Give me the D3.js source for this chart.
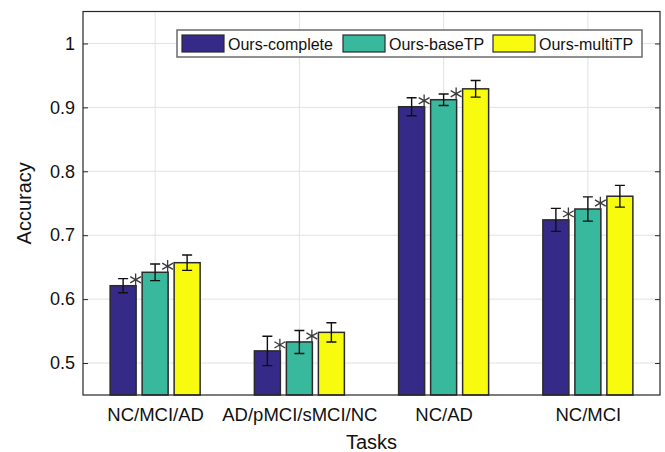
<!DOCTYPE html>
<html>
<head>
<meta charset="utf-8">
<script src="https://cdn.jsdelivr.net/npm/d3@7"></script>
<style>
    body { margin: 0; background: #fff; }
    text { font-family: "Liberation Sans", Arial, sans-serif; }
</style>
</head>
<body>
<div id="chart"></div>
<script>
// chart data
var tasks = ["NC/MCI/AD", "AD/pMCI/sMCI/NC", "NC/AD", "NC/MCI"];
var methods = ["Ours-complete", "Ours-baseTP", "Ours-multiTP"];
var colors = ["#352a87", "#38b99e", "#f9fb0e"];
var complete = [0.621, 0.519, 0.901, 0.724];
var completeErr = [0.011, 0.023, 0.014, 0.018];
var baseTP = [0.642, 0.533, 0.912, 0.741];
var baseTPErr = [0.013, 0.018, 0.009, 0.019];
var multiTP = [0.657, 0.548, 0.929, 0.761];
var multiTPErr = [0.012, 0.015, 0.013, 0.017];
// which method gets a significance star
var starred = [true, true, false];
var yTicks = [0.5, 0.6, 0.7, 0.8, 0.9, 1];

var values = [complete, baseTP, multiTP];
var errors = [completeErr, baseTPErr, multiTPErr];

drawChart();

function drawChart() {
    var W = 665, H = 452;
    var left = 83, right = 660, top = 11.5, bottom = 395;

    var svg = d3.select("#chart").append("svg")
        .attr("width", W)
        .attr("height", H);

    // x is the task index 1..4 like a matlab bar plot
    var x = d3.scaleLinear().domain([0.5, 4.5]).range([left, right]);
    var y = d3.scaleLinear().domain([0.45, 1.05]).range([bottom, top]);
    // offset of each bar inside a group
    var xm = d3.scaleBand().domain(methods).range([-48, 48])
        .paddingInner(0.1875).paddingOuter(0.09375);

    // flatten into one record per bar
    var bars = [];
    tasks.forEach(function (t, i) {
        methods.forEach(function (m, j) {
            bars.push({ task: i + 1, method: m, k: j, v: values[j][i], e: errors[j][i] });
        });
    });

    // grid
    var grid = svg.append("g").attr("stroke", "#e2e2e2").attr("stroke-width", 1);
    grid.selectAll(".gy").data(yTicks).enter().append("line")
        .attr("x1", left).attr("x2", right)
        .attr("y1", function (d) { return y(d); })
        .attr("y2", function (d) { return y(d); });
    grid.selectAll(".gx").data(d3.range(1, 5)).enter().append("line")
        .attr("y1", top).attr("y2", bottom)
        .attr("x1", function (d) { return x(d); })
        .attr("x2", function (d) { return x(d); });

    // bars
    svg.append("g").selectAll("rect").data(bars).enter().append("rect")
        .attr("x", function (d) { return x(d.task) + xm(d.method); })
        .attr("width", xm.bandwidth())
        .attr("y", function (d) { return y(d.v); })
        .attr("height", function (d) { return y(0.45) - y(d.v); })
        .attr("fill", function (d) { return colors[d.k]; })
        .attr("stroke", "#2b2b2b")
        .attr("stroke-width", 1.5);

    // error bars
    var eb = svg.append("g").attr("stroke", "#111").attr("stroke-width", 1.4).attr("fill", "none");
    eb.selectAll("path").data(bars).enter().append("path")
        .attr("d", function (d) {
            var cx = x(d.task) + xm(d.method) + xm.bandwidth() / 2;
            var y0 = y(d.v - d.e), y1 = y(d.v + d.e);
            return "M" + (cx - 5) + "," + y0 + "H" + (cx + 5) +
                "M" + cx + "," + y0 + "V" + y1 +
                "M" + (cx - 5) + "," + y1 + "H" + (cx + 5);
        });

    // significance stars
    var star = d3.symbol().type(d3.symbolAsterisk).size(110);
    svg.append("g").selectAll("path")
        .data(bars.filter(function (d) { return starred[d.k]; }))
        .enter().append("path")
        .attr("d", star)
        .attr("transform", function (d) {
            var sx = x(d.task) + xm(d.method) + xm.bandwidth();
            return "translate(" + (sx - 0.5) + "," + (y(d.v) - 6) + ")";
        })
        .attr("fill", "none")
        .attr("stroke", "#3a3a3a")
        .attr("stroke-width", 1.3);

    // axes box
    svg.append("rect")
        .attr("x", left).attr("y", top)
        .attr("width", right - left).attr("height", bottom - top)
        .attr("fill", "none")
        .attr("stroke", "#262626")
        .attr("stroke-width", 1.2);

    // y ticks on both sides, pointing in
    var yAxis = d3.axisLeft(y).tickValues(yTicks).tickSizeInner(-5).tickSizeOuter(0).tickPadding(8)
        .tickFormat(function (d) { return d3.format("")(d); });
    var gy = svg.append("g").attr("transform", "translate(" + left + ",0)").call(yAxis);
    gy.select(".domain").remove();
    gy.selectAll("line").attr("stroke", "#262626");
    gy.selectAll("text").attr("font-size", 18).attr("fill", "#111")
        .style("font-family", "Liberation Sans, Arial, sans-serif");

    var gyr = svg.append("g").attr("transform", "translate(" + right + ",0)")
        .call(d3.axisRight(y).tickValues(yTicks).tickSizeInner(-5).tickSizeOuter(0).tickFormat(""));
    gyr.select(".domain").remove();
    gyr.selectAll("line").attr("stroke", "#262626");

    // x axis labels
    var xAxis = d3.axisBottom(x).tickValues([1, 2, 3, 4]).tickSizeInner(-5).tickSizeOuter(0).tickPadding(13)
        .tickFormat(function (d) { return tasks[d - 1]; });
    var gx = svg.append("g").attr("transform", "translate(0," + bottom + ")").call(xAxis);
    gx.select(".domain").remove();
    gx.selectAll("line").remove();
    gx.selectAll("text").attr("font-size", 18.5).attr("fill", "#111")
        .style("font-family", "Liberation Sans, Arial, sans-serif");

    // axis titles
    svg.append("text")
        .attr("transform", "translate(31," + ((top + bottom) / 2) + ") rotate(-90)")
        .attr("text-anchor", "middle")
        .attr("font-size", 20)
        .attr("fill", "#111")
        .text("Accuracy");
    svg.append("text")
        .attr("x", (left + right) / 2)
        .attr("y", 449)
        .attr("text-anchor", "middle")
        .attr("font-size", 20)
        .attr("fill", "#111")
        .text("Tasks");

    // legend
    var lg = svg.append("g").attr("transform", "translate(177,30)");
    lg.append("rect")
        .attr("width", 465).attr("height", 27)
        .attr("fill", "#fff")
        .attr("stroke", "#6b6b6b")
        .attr("stroke-width", 1.5);
    var itemX = [5, 166, 316];
    var items = lg.selectAll(".item").data(methods).enter().append("g")
        .attr("transform", function (d, i) { return "translate(" + itemX[i] + ",5)"; });
    items.append("rect")
        .attr("width", 42).attr("height", 17)
        .attr("fill", function (d, i) { return colors[i]; })
        .attr("stroke", "#2b2b2b")
        .attr("stroke-width", 1.2);
    items.append("text")
        .attr("x", 46).attr("y", 14.5)
        .attr("font-size", 16)
        .attr("fill", "#111")
        .text(function (d) { return d; });
}
</script>
</body>
</html>
